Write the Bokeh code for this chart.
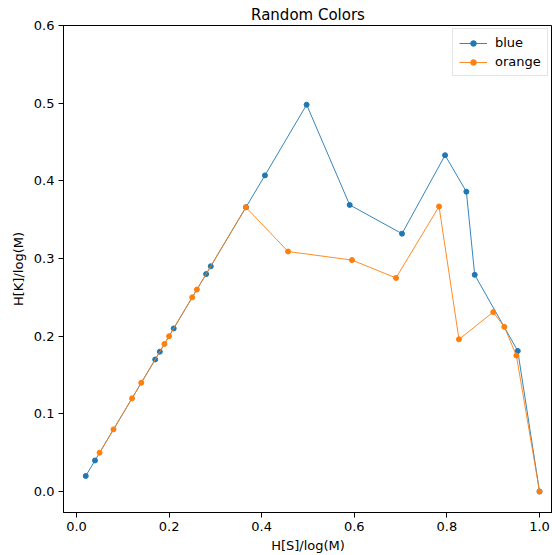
from bokeh.plotting import figure
from bokeh.models import Range1d, FixedTicker, PrintfTickFormatter, Legend, LegendItem
from bokeh.embed import file_html
from bokeh.resources import INLINE

title = "Random Colors"
x_label = "H[S]/log(M)"
y_label = "H[K]/log(M)"

blue_x = [0.02, 0.04, 0.17, 0.18, 0.21, 0.28, 0.29, 0.366, 0.407, 0.497, 0.590, 0.703, 0.796, 0.842, 0.860, 0.953, 1.0]
blue_y = [0.02, 0.04, 0.17, 0.18, 0.21, 0.28, 0.29, 0.366, 0.407, 0.498, 0.369, 0.332, 0.433, 0.386, 0.279, 0.181, 0.0]

orange_x = [0.05, 0.08, 0.12, 0.14, 0.19, 0.20, 0.25, 0.26, 0.366, 0.457, 0.595, 0.690, 0.783, 0.826, 0.900, 0.924, 0.950, 1.0]
orange_y = [0.05, 0.08, 0.12, 0.14, 0.19, 0.20, 0.25, 0.26, 0.366, 0.309, 0.298, 0.275, 0.367, 0.196, 0.231, 0.212, 0.175, 0.0]

x_ticks = [0.0, 0.2, 0.4, 0.6, 0.8, 1.0]
y_ticks = [0.0, 0.1, 0.2, 0.3, 0.4, 0.5, 0.6]

FONT = "DejaVu Sans"

p = figure(width=552, height=555, output_backend="svg", toolbar_location=None,
           x_range=Range1d(-0.028, 1.028), y_range=Range1d(-0.027, 0.6),
           min_border_left=63, min_border_right=0, min_border_top=25, min_border_bottom=42)
p.title.text = title
p.title.align = "center"
p.title.text_font = FONT
p.title.text_font_size = "15px"
p.title.text_font_style = "normal"
p.title.text_color = "black"
p.title.offset = 0
p.title.standoff = 4

p.xgrid.visible = False
p.ygrid.visible = False
p.outline_line_color = "black"
p.outline_line_width = 1

for ax, ticks in ((p.xaxis[0], x_ticks), (p.yaxis[0], y_ticks)):
    ax.ticker = FixedTicker(ticks=ticks)
    ax.formatter = PrintfTickFormatter(format="%.1f")
    ax.major_tick_out = 5
    ax.major_tick_in = 0
    ax.minor_tick_out = 0
    ax.minor_tick_in = 0
    ax.major_label_text_font = FONT
    ax.major_label_text_font_size = "13px"
    ax.major_label_text_color = "black"
    ax.axis_label_text_font = FONT
    ax.axis_label_text_font_size = "13px"
    ax.axis_label_text_font_style = "normal"
    ax.axis_label_text_color = "black"
    ax.axis_line_color = "black"
    ax.major_tick_line_color = "black"
    ax.major_label_standoff = 4

p.xaxis.axis_label = x_label
p.yaxis.axis_label = y_label
p.xaxis.axis_label_standoff = 4
p.yaxis.axis_label_standoff = 5

bl = p.line(blue_x, blue_y, line_color="#1f77b4", line_width=0.9)
bs = p.scatter(blue_x, blue_y, size=5, fill_color="#1f77b4", line_color="#1f77b4")
ol = p.line(orange_x, orange_y, line_color="#ff7f0e", line_width=0.9)
os_ = p.scatter(orange_x, orange_y, size=5, fill_color="#ff7f0e", line_color="#ff7f0e")

legend = Legend(items=[LegendItem(label="blue", renderers=[bl, bs]),
                       LegendItem(label="orange", renderers=[ol, os_])],
                location=(389, 436))
legend.label_text_font = FONT
legend.label_text_font_size = "13px"
legend.label_text_color = "black"
legend.glyph_width = 28
legend.glyph_height = 14
legend.label_standoff = 8
legend.spacing = 4
legend.padding = 6
legend.margin = 0
legend.border_line_color = "#cccccc"
legend.border_line_width = 1
legend.background_fill_alpha = 0.8
p.add_layout(legend)

open("out.html", "w").write(file_html(p, INLINE))
